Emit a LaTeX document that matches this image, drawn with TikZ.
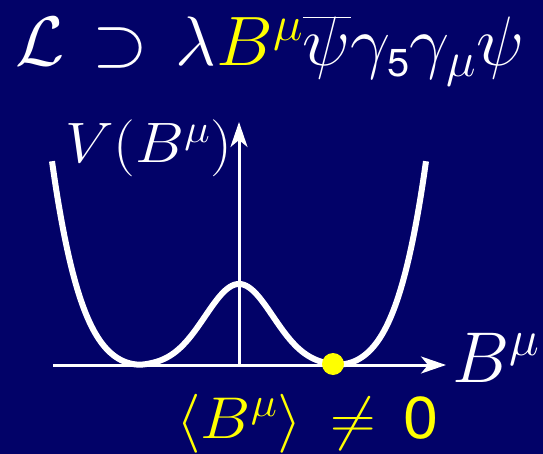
\documentclass[tikz,border=0pt]{standalone}
\usepackage{fix-cm}
\usepackage{fontspec}
\newfontfamily\hv{TeX Gyre Heros}
\usetikzlibrary{arrows.meta}
\definecolor{bg}{RGB}{2,2,104}
\definecolor{yel}{RGB}{255,255,0}
\begin{document}
\begin{tikzpicture}[x=1pt,y=-1pt,
  axis/.style={white,line width=3pt,-{Stealth[length=25pt,width=17pt,inset=7pt]}},
  lbl/.style={anchor=base west,inner sep=0pt,white},
  declare function={uu(\t)=(\t-239)/94; mm(\t)=max(abs(uu(\t))-1,0);
    vv(\t)=82*exp(-uu(\t)*uu(\t)/0.26)+80*mm(\t)*mm(\t)+132*mm(\t)*mm(\t)*mm(\t)*mm(\t);}]
\fill[bg] (0,0) rectangle (543,454);
\useasboundingbox (0,0) rectangle (543,454);
\node[lbl,xscale=1.02] (title) at (15,66) {\fontsize{70}{80}\selectfont\thickmuskip=7mu
  $\mathcal{L}\supset\lambda{\color{yel}B^{\mu}}\overline{\smash{\psi}\vphantom{B}}\gamma_{\hbox{\fontsize{39}{40}\hv 5}}\gamma_{\mu}\psi$};
\coordinate (xstart) at (53,365);
\coordinate (xend) at (446,365);
\coordinate (O) at (239,365);
\coordinate (yend) at (239,122);
\draw[axis] (xstart) -- (xend);
\draw[axis] (O) -- (yend);
\draw[white,line width=6pt,line join=round] plot[domain=52:426,samples=240,smooth] (\x,{366-vv(\x)});
\node[lbl,xscale=1.08] (vlab) at (65,163) {\fontsize{57}{64}\selectfont $V(B^{\mu})$};
\node[lbl] (blab) at (452,382) {\fontsize{72}{80}\selectfont $B^{\mu}$};
\node[lbl,yel,xscale=1.07] (vev) at (176,438) {\fontsize{59}{70}\selectfont\thickmuskip=8mu $\langle B^{\mu}\rangle\neq\hbox{\hv 0}$};
\fill[yel] (333,364) circle (11pt) coordinate (dot);
\end{tikzpicture}
\end{document}
